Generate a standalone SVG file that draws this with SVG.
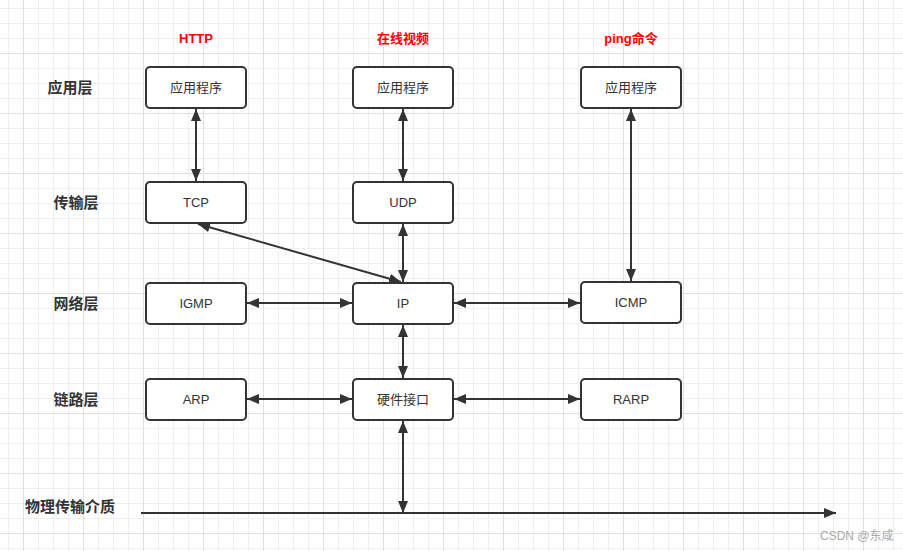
<svg xmlns="http://www.w3.org/2000/svg" width="903" height="551" viewBox="0 0 903 551">
<style>
.node rect{fill:#fff;stroke:#333;stroke-width:2}
.node text{font-family:"Liberation Sans","Noto Sans CJK SC",sans-serif;font-size:13px;fill:#333;text-anchor:middle;dominant-baseline:central}
.layer{font-family:"Noto Sans CJK SC","Liberation Sans",sans-serif;font-size:15px;font-weight:bold;fill:#333;text-anchor:middle;dominant-baseline:central}
.title{font-family:"Liberation Sans","Noto Sans CJK SC",sans-serif;font-size:13px;font-weight:bold;fill:#ff0000;text-anchor:middle;dominant-baseline:central}
#connectors line{stroke:#333;stroke-width:2;fill:none}
.mark{font-family:"Liberation Sans","Noto Sans CJK SC",sans-serif;font-size:12px;fill:#aaa}
</style>
<defs>
<marker id="arr" markerUnits="userSpaceOnUse" markerWidth="13" markerHeight="11" refX="12" refY="5" orient="auto-start-reverse">
<path d="M0,0 L12,5 L0,10 z" fill="#333"/>
</marker>
<pattern id="grid" patternUnits="userSpaceOnUse" x="23" y="53" width="60" height="60">
<rect x="15" y="0" width="1" height="60" fill="#efefef"/>
<rect x="30" y="0" width="1" height="60" fill="#efefef"/>
<rect x="45" y="0" width="1" height="60" fill="#efefef"/>
<rect x="0" y="15" width="60" height="1" fill="#efefef"/>
<rect x="0" y="30" width="60" height="1" fill="#efefef"/>
<rect x="0" y="45" width="60" height="1" fill="#efefef"/>
<rect x="0" y="0" width="1" height="60" fill="#e0e0e0"/>
<rect x="0" y="0" width="60" height="1" fill="#e0e0e0"/>
</pattern>
</defs>
<rect width="903" height="551" fill="#fff"/>
<rect width="903" height="551" fill="url(#grid)"/>

<text class="title" x="196" y="38.5">HTTP</text>
<text class="title" x="403" y="38.5">在线视频</text>
<text class="title" x="631" y="38.5">ping命令</text>

<text class="layer" x="70" y="86.5">应用层</text>
<text class="layer" x="76" y="201.5">传输层</text>
<text class="layer" x="76" y="302.5">网络层</text>
<text class="layer" x="76" y="398.5">链路层</text>
<text class="layer" x="70" y="505.5">物理传输介质</text>

<g id="connectors">
<line x1="196" y1="109" x2="196" y2="181" marker-start="url(#arr)" marker-end="url(#arr)"/>
<line x1="403" y1="109" x2="403" y2="181" marker-start="url(#arr)" marker-end="url(#arr)"/>
<line x1="631" y1="109" x2="631" y2="281" marker-start="url(#arr)" marker-end="url(#arr)"/>
<line x1="403" y1="224" x2="403" y2="282" marker-start="url(#arr)" marker-end="url(#arr)"/>
<line x1="198" y1="224" x2="401" y2="282" marker-start="url(#arr)" marker-end="url(#arr)"/>
<line x1="247" y1="303" x2="352" y2="303" marker-start="url(#arr)" marker-end="url(#arr)"/>
<line x1="454" y1="303" x2="580" y2="303" marker-start="url(#arr)" marker-end="url(#arr)"/>
<line x1="403" y1="325" x2="403" y2="378" marker-start="url(#arr)" marker-end="url(#arr)"/>
<line x1="247" y1="399" x2="352" y2="399" marker-start="url(#arr)" marker-end="url(#arr)"/>
<line x1="454" y1="399" x2="580" y2="399" marker-start="url(#arr)" marker-end="url(#arr)"/>
<line x1="403" y1="421" x2="403" y2="513" marker-start="url(#arr)" marker-end="url(#arr)"/>
<line x1="141" y1="513" x2="836" y2="513" marker-end="url(#arr)"/>
</g>

<g id="app-http" class="node"><rect x="146" y="67" width="100" height="41" rx="4"/><text x="196" y="87.5">应用程序</text></g>
<g id="app-video" class="node"><rect x="353" y="67" width="100" height="41" rx="4"/><text x="403" y="87.5">应用程序</text></g>
<g id="app-ping" class="node"><rect x="581" y="67" width="100" height="41" rx="4"/><text x="631" y="87.5">应用程序</text></g>
<g id="tcp" class="node"><rect x="146" y="182" width="100" height="41" rx="4"/><text x="196" y="202.5">TCP</text></g>
<g id="udp" class="node"><rect x="353" y="182" width="100" height="41" rx="4"/><text x="403" y="202.5">UDP</text></g>
<g id="igmp" class="node"><rect x="146" y="283" width="100" height="41" rx="4"/><text x="196" y="303.5">IGMP</text></g>
<g id="ip" class="node"><rect x="353" y="283" width="100" height="41" rx="4"/><text x="403" y="303.5">IP</text></g>
<g id="icmp" class="node"><rect x="581" y="282" width="100" height="41" rx="4"/><text x="631" y="302.5">ICMP</text></g>
<g id="arp" class="node"><rect x="146" y="379" width="100" height="41" rx="4"/><text x="196" y="399.5">ARP</text></g>
<g id="hw" class="node"><rect x="353" y="379" width="100" height="41" rx="4"/><text x="403" y="399.5">硬件接口</text></g>
<g id="rarp" class="node"><rect x="581" y="379" width="100" height="41" rx="4"/><text x="631" y="399.5">RARP</text></g>

<text class="mark" x="820" y="540">CSDN @东咸</text>
</svg>
